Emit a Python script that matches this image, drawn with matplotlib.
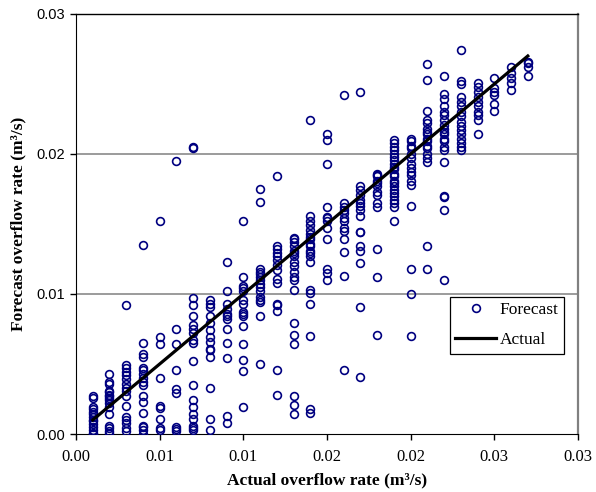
import matplotlib
matplotlib.use("Agg")
import matplotlib.pyplot as plt
from matplotlib.lines import Line2D

# ---- data (values in thousandths of m3/s) ----
actual_k = list(range(1, 28))
forecast_cols = {
    1: [2.7, 2.6, 1.9, 1.8, 1.6, 1.4, 1.2, 1.0, 0.9, 0.7, 0.5, 0.3, 0.1, 0.0],
    2: [4.3, 3.7, 3.6, 3.1, 3.0, 2.8, 2.7, 2.6, 2.4, 2.2, 1.9, 1.4, 0.6, 0.4, 0.2, 0.05],
    3: [9.2, 4.9, 4.7, 4.4, 4.2, 3.9, 3.6, 3.3, 3.1, 2.7, 2.0, 1.2, 1.0, 0.8, 0.4, 0.2],
    4: [13.5, 6.5, 5.7, 5.5, 4.7, 4.6, 4.3, 4.0, 3.7, 3.5, 2.7, 2.3, 1.5, 0.6, 0.5, 0.3, 0.0],
    5: [15.2, 6.95, 6.4, 4.0, 2.0, 1.85, 1.1, 0.45, 0.3],
    6: [19.5, 7.5, 6.4, 4.6, 3.2, 2.9, 0.5, 0.35, 0.2],
    7: [20.5, 20.4, 9.7, 9.2, 8.4, 7.8, 7.5, 7.2, 6.7, 6.5, 5.2, 3.5, 2.4, 1.9, 1.4, 1.05, 0.6, 0.4, 0.3],
    8: [9.6, 9.3, 9.1, 8.45, 7.9, 7.4, 6.9, 6.6, 6.1, 6.0, 5.5, 3.3, 1.1, 0.3],
    9: [12.3, 10.2, 9.3, 8.9, 8.6, 8.4, 8.2, 7.5, 6.5, 5.4, 1.3, 0.8],
    10: [15.2, 11.2, 10.6, 10.4, 10.2, 9.6, 9.3, 8.7, 8.6, 8.4, 7.7, 6.4, 5.3, 4.5, 1.95],
    11: [17.5, 16.6, 11.8, 11.6, 11.4, 11.2, 11.0, 10.7, 10.5, 10.2, 9.8, 9.6, 9.4, 8.4, 5.0],
    12: [18.4, 13.4, 13.2, 12.9, 12.7, 12.4, 12.1, 11.7, 11.1, 10.8, 9.3, 9.2, 8.8, 4.6, 2.8],
    13: [14.0, 13.9, 13.7, 13.4, 13.1, 12.9, 12.7, 12.3, 12.0, 11.6, 11.2, 11.0, 10.3, 7.9, 7.1, 6.4, 2.7, 2.1, 1.4],
    14: [22.4, 15.6, 15.2, 14.9, 14.6, 14.3, 14.1, 13.9, 13.6, 13.4, 13.1, 12.9, 12.7, 12.3, 10.3, 10.1, 9.3, 7.0, 1.8, 1.5],
    15: [21.4, 21.0, 19.3, 16.2, 15.5, 15.4, 15.2, 14.7, 13.9, 11.8, 11.5, 11.0],
    16: [24.2, 16.5, 16.2, 16.0, 15.8, 15.4, 15.2, 14.7, 14.5, 13.9, 13.0, 11.3, 4.6],
    17: [24.45, 17.7, 17.4, 17.1, 16.7, 16.5, 16.3, 16.0, 15.6, 14.45, 14.4, 13.4, 13.1, 12.2, 9.1, 4.1],
    18: [18.6, 18.5, 18.4, 18.1, 17.9, 17.7, 17.3, 17.1, 16.5, 16.2, 13.2, 11.2, 7.1],
    19: [21.0, 20.8, 20.5, 20.3, 20.0, 19.8, 19.6, 19.3, 19.1, 18.9, 18.6, 18.4, 18.1, 17.9, 17.7,
         17.4, 17.2, 17.0, 16.7, 16.5, 16.2, 15.2],
    20: [21.1, 20.9, 20.6, 20.4, 20.0, 19.7, 19.3, 19.0, 18.7, 18.5, 18.1, 17.8, 16.3, 11.8, 10.0, 7.0],
    21: [26.4, 25.3, 23.1, 22.4, 22.2, 21.8, 21.6, 21.4, 21.1, 20.9, 20.6, 20.4, 20.0, 19.7, 19.45, 13.4, 11.8],
    22: [25.6, 24.3, 23.9, 23.4, 23.0, 22.8, 22.4, 22.1, 21.8, 21.6, 21.4, 21.1, 20.9, 20.5, 20.3,
         19.45, 17.0, 16.9, 16.0, 11.0],
    23: [27.4, 25.2, 25.0, 24.1, 23.7, 23.4, 23.0, 22.7, 22.3, 22.0, 21.7, 21.4, 21.1, 20.8, 20.5, 20.3],
    24: [25.05, 24.8, 24.45, 24.1, 23.7, 23.4, 23.0, 22.8, 22.4, 21.4],
    25: [25.4, 24.7, 24.45, 24.2, 23.6, 23.1],
    26: [26.2, 25.8, 25.4, 25.05, 24.6],
    27: [26.6, 26.5, 26.2, 25.6],
}
actual_line_x = [0.001, 0.027]
actual_line_y = [0.001, 0.027]
xticks = [0.0, 0.005, 0.01, 0.015, 0.02, 0.025, 0.03]
xtick_labels = ["0.00", "0.01", "0.01", "0.02", "0.02", "0.03", "0.03"]
yticks = [0.0, 0.01, 0.02, 0.03]
ytick_labels = ["0.00", "0.01", "0.02", "0.03"]

xs, ys = [], []
for k in actual_k:
    for v in forecast_cols[k]:
        xs.append(k / 1000.0)
        ys.append(v / 1000.0)

W, H = 596, 492
L, R, T, B = 76, 578, 14, 434
fig = plt.figure(figsize=(W / 100, H / 100), dpi=100)
ax = fig.add_axes([L / W, 1 - B / H, (R - L) / W, (B - T) / H])

navy = "#000080"
ax.plot(xs, ys, linestyle="none", marker="o", markersize=5.6, markerfacecolor="none",
        markeredgecolor=navy, markeredgewidth=1.2, zorder=3)
ax.plot(actual_line_x, actual_line_y, color="black", linewidth=2.3, zorder=4)

ax.set_xlim(0, 0.03)
ax.set_ylim(0, 0.03)
ax.set_xticks(xticks)
ax.set_xticklabels(xtick_labels, family="Liberation Serif", fontsize=12)
ax.set_yticks(yticks)
ax.set_yticklabels(ytick_labels, family="Liberation Sans", fontsize=10.5)
ax.tick_params(axis="both", direction="out", length=4, width=1, colors="black")
ax.tick_params(axis="x", pad=7)
ax.tick_params(axis="y", pad=4)

for y in [0.01, 0.02]:
    ax.axhline(y, color="#808080", linewidth=1.1, zorder=1)

ax.spines["left"].set_color("black")
ax.spines["bottom"].set_color("black")
ax.spines["top"].set_color("black")
ax.spines["top"].set_linewidth(1.0)
ax.spines["right"].set_color("#808080")
ax.spines["right"].set_linewidth(1.6)

ax.set_xlabel("Actual overflow rate (m³/s)", family="Liberation Serif", fontweight="bold",
              fontsize=12.5)
ax.xaxis.label.set_verticalalignment("center")
ax.xaxis.set_label_coords((327 - L) / (R - L), (B - 480) / (B - T))
ax.set_ylabel("Forecast overflow rate (m³/s)", family="Liberation Serif", fontweight="bold",
              fontsize=12.5)
ax.yaxis.label.set_verticalalignment("center")
ax.yaxis.set_label_coords((18 - L) / (R - L), (B - 224) / (B - T))

handles = [Line2D([], [], linestyle="none", marker="o", markersize=5.6, markerfacecolor="none",
                  markeredgecolor=navy, markeredgewidth=1.2),
           Line2D([], [], color="black", linewidth=2.3)]
leg = ax.legend(handles, ["Forecast", "Actual"], loc="upper left",
                bbox_to_anchor=((450 - L) / (R - L), (B - 297) / (B - T)),
                prop={"family": "Liberation Serif", "size": 12.5}, frameon=True, fancybox=False,
                edgecolor="black", framealpha=1, borderpad=0.3, handlelength=2.35,
                handletextpad=0.2, labelspacing=0.8, borderaxespad=0)
leg.get_frame().set_linewidth(0.9)

fig.savefig("out.png", dpi=100)
